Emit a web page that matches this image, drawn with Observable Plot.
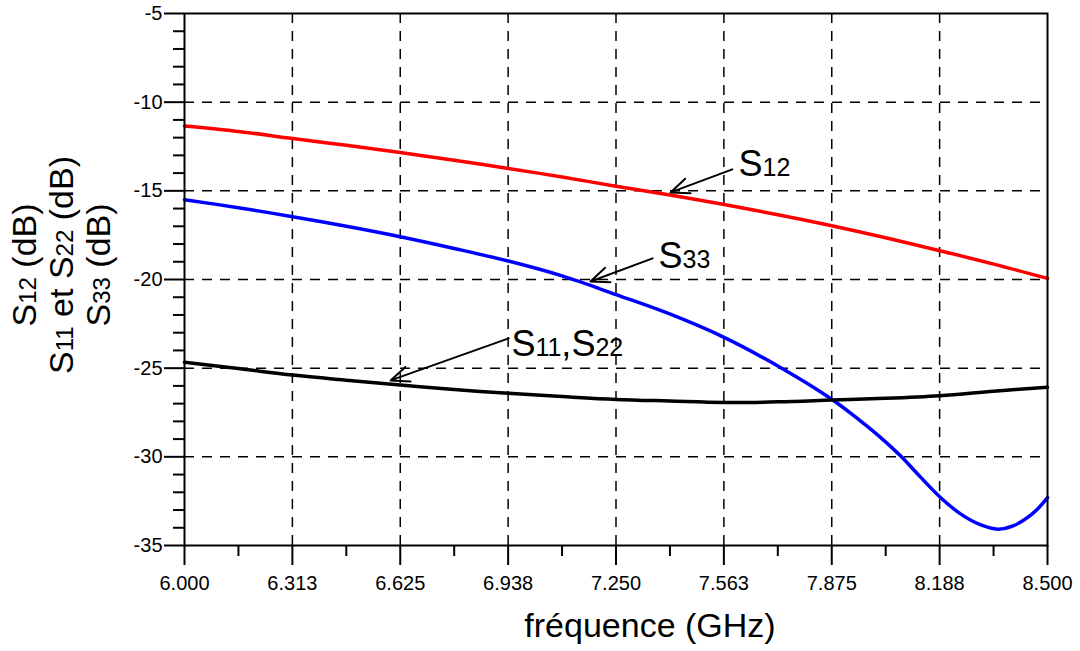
<!DOCTYPE html>
<html>
<head>
<meta charset="utf-8">
<script src="https://cdn.jsdelivr.net/npm/d3@7"></script>
<script src="https://cdn.jsdelivr.net/npm/@observablehq/plot@0.6"></script>
<style>
  body { margin: 0; background: #fff; }
  svg { font-family: "Liberation Sans", Arial, sans-serif; }
</style>
</head>
<body>
<div id="chart"></div>
<script>
// ---- Data (frequency in GHz, values in dB) ----
const s12Freq   = [6.0, 6.156, 6.313, 6.469, 6.625, 6.781, 6.938, 7.094, 7.25, 7.406, 7.563, 7.719, 7.875, 8.031, 8.188, 8.344, 8.5];
const s12Values = [-11.34, -11.65, -12.05, -12.43, -12.84, -13.27, -13.74, -14.22, -14.74, -15.24, -15.77, -16.35, -16.97, -17.65, -18.38, -19.13, -19.94];

const s11Freq   = [6.0, 6.156, 6.313, 6.469, 6.625, 6.781, 6.938, 7.094, 7.25, 7.406, 7.563, 7.719, 7.875, 8.031, 8.188, 8.344, 8.5];
const s11Values = [-24.67, -25.02, -25.39, -25.68, -25.95, -26.2, -26.42, -26.6, -26.76, -26.85, -26.93, -26.9, -26.8, -26.7, -26.55, -26.3, -26.07];

const s33Freq   = [6.0, 6.156, 6.313, 6.469, 6.625, 6.781, 6.938, 7.094, 7.25, 7.40, 7.563, 7.73, 7.875, 7.958, 8.016, 8.074, 8.133, 8.19, 8.249, 8.307, 8.356, 8.40, 8.46, 8.5];
const s33Values = [-15.5, -15.95, -16.46, -17.0, -17.59, -18.25, -18.96, -19.8, -20.85, -21.9, -23.26, -25.0, -26.75, -27.97, -28.9, -29.94, -31.16, -32.29, -33.23, -33.84, -34.08, -33.9, -33.15, -32.3];

// ---- Ticks ----
const xTicks = [6.0, 6.3125, 6.625, 6.9375, 7.25, 7.5625, 7.875, 8.1875, 8.5];
const xTickLabels = ["6.000", "6.313", "6.625", "6.938", "7.250", "7.563", "7.875", "8.188", "8.500"];
const xMinorTicks = [6.15625, 6.46875, 6.78125, 7.09375, 7.40625, 7.71875, 8.03125, 8.34375];
const xGrid = [6.3125, 6.625, 6.9375, 7.25, 7.5625, 7.875, 8.1875];

const yTicks = [-35, -30, -25, -20, -15, -10, -5];
const yTickLabels = ["-35", "-30", "-25", "-20", "-15", "-10", "-5"];
const yMinorTicks = [-34, -33, -32, -31, -29, -28, -27, -26, -24, -23, -22, -21, -19, -18, -17, -16, -14, -13, -12, -11, -9, -8, -7, -6];
const yGrid = [-30, -25, -20, -15, -10];

// ---- Annotations ----
const annoLabels = ["S12", "S33", "S11,S22"];
const annoTextX  = [7.605, 7.373, 6.947];
const annoTextY  = [-14.19, -19.37, -24.33];
const arrowX1 = [7.587, 7.356, 6.939];
const arrowY1 = [-13.79, -18.81, -23.32];
const arrowX2 = [7.408, 7.176, 6.597];
const arrowY2 = [-15.09, -20.11, -25.69];

const xTitle = "fréquence (GHz)";

// ---- Build tables ----
const series = [
  {name: "S12", color: "#ff0000", f: s12Freq, v: s12Values},
  {name: "S33", color: "#0000ff", f: s33Freq, v: s33Values},
  {name: "S11", color: "#000000", f: s11Freq, v: s11Values}
];
const lineData = series.flatMap(s => s.f.map((f, i) => ({f, v: s.v[i], name: s.name, color: s.color})));
const annos = annoLabels.map((t, i) => ({t, x: annoTextX[i], y: annoTextY[i], x1: arrowX1[i], y1: arrowY1[i], x2: arrowX2[i], y2: arrowY2[i]}));

const gridStyle = {stroke: "black", strokeOpacity: 1, strokeWidth: 1.5, strokeDasharray: "10,8"};

const plot = Plot.plot({
  width: 1080,
  height: 651,
  marginLeft: 184,
  marginRight: 33,
  marginTop: 13,
  marginBottom: 106,
  x: {domain: [6, 8.5], label: null, axis: null},
  y: {domain: [-35, -5], label: null, axis: null},
  style: {fontFamily: "'Liberation Sans', Arial, sans-serif", fontSize: "20px", color: "black", background: "white"},
  marks: [
    Plot.gridX(xGrid, gridStyle),
    Plot.gridY(yGrid, gridStyle),
    Plot.line(lineData, {x: "f", y: "v", z: "name", stroke: "color", strokeWidth: 3.5, curve: "catmull-rom"}),
    Plot.frame({stroke: "black", strokeWidth: 2}),
    Plot.axisX(xTicks, {tickSize: 20, tickPadding: 10, strokeWidth: 2, fontSize: 20, label: null,
      tickFormat: d => xTickLabels[xTicks.indexOf(d)]}),
    Plot.axisX(xMinorTicks, {tickSize: 11, strokeWidth: 2, label: null, tickFormat: () => ""}),
    Plot.axisY(yTicks, {tickSize: 20, tickPadding: 2, strokeWidth: 2, fontSize: 20, label: null,
      tickFormat: d => yTickLabels[yTicks.indexOf(d)]}),
    Plot.axisY(yMinorTicks, {tickSize: 11, strokeWidth: 2, label: null, tickFormat: () => ""}),
    Plot.arrow(annos, {x1: "x1", y1: "y1", x2: "x2", y2: "y2", stroke: "black", strokeWidth: 2, headLength: 15, headAngle: 45}),
    Plot.text(annos, {x: "x", y: "y", text: "t", textAnchor: "start", lineAnchor: "bottom", fontSize: 36, fill: "black"})
  ]
});

document.getElementById("chart").appendChild(plot);

// Subscript formatting helper: "S12" -> S + small "12"
function withSubs(sel, str, subSize) {
  const parts = str.split(/(S\d\d)/).filter(p => p.length);
  parts.forEach(p => {
    const m = p.match(/^S(\d\d)$/);
    if (m) {
      sel.append("tspan").text("S");
      sel.append("tspan").attr("font-size", subSize).text(m[1]);
    } else {
      sel.append("tspan").text(p);
    }
  });
}

const svg = d3.select(plot);

// Rewrite annotation labels with subscripts
svg.selectAll("text").each(function() {
  const t = this.textContent;
  if (annoLabels.includes(t) && this.children.length === 0) {
    const sel = d3.select(this);
    sel.text("");
    withSubs(sel, t, 25);
  }
});

// Y axis title (three rotated lines)
const yTitleLines = ["S12 (dB)", "S11 et S22 (dB)", "S33 (dB)"];
const yTitleX = [36, 73, 110];
yTitleLines.forEach((line, i) => {
  const t = svg.append("text")
    .attr("transform", `translate(${yTitleX[i]},265) rotate(-90)`)
    .attr("text-anchor", "middle")
    .attr("font-size", 34)
    .attr("fill", "black");
  withSubs(t, line, 24);
});

// X axis title
svg.append("text")
  .attr("x", 650)
  .attr("y", 637)
  .attr("text-anchor", "middle")
  .attr("font-size", 34)
  .attr("fill", "black")
  .text(xTitle);
</script>
</body>
</html>
